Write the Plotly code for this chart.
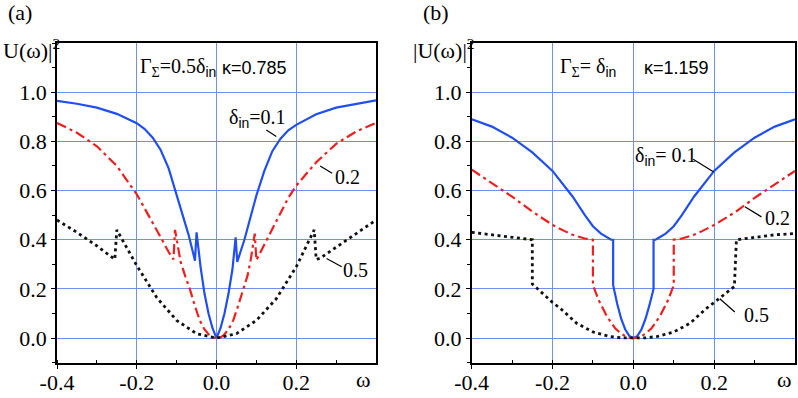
import plotly.graph_objects as go
from plotly.subplots import make_subplots

# ---------------- data ----------------
# panel (a): Gamma = 0.5 delta_in, kappa = 0.785
a01_x = [-0.4, -0.35, -0.3, -0.25, -0.2, -0.18, -0.16, -0.14, -0.12, -0.1, -0.09, -0.08, -0.07, -0.06,
         -0.054, -0.05, -0.04, -0.03, -0.02, -0.01, 0.0, 0.01, 0.02, 0.03, 0.04, 0.048, 0.052, 0.06, 0.07,
         0.08, 0.09, 0.1, 0.12, 0.14, 0.16, 0.18, 0.2, 0.25, 0.3, 0.35, 0.4]
a01_y = [0.965, 0.953, 0.937, 0.912, 0.874, 0.85, 0.815, 0.765, 0.69, 0.585, 0.535, 0.48, 0.42, 0.355,
         0.315, 0.43, 0.29, 0.18, 0.10, 0.04, 0.0, 0.04, 0.10, 0.18, 0.28, 0.41, 0.31, 0.35, 0.40,
         0.46, 0.52, 0.58, 0.68, 0.76, 0.81, 0.845, 0.867, 0.91, 0.937, 0.953, 0.967]

a02_x = [-0.4, -0.35, -0.3, -0.25, -0.2, -0.17, -0.14, -0.12, -0.108, -0.104, -0.09, -0.078, -0.066,
         -0.054, -0.042, -0.03, -0.017, -0.008, 0.0, 0.008, 0.017, 0.03, 0.042, 0.054, 0.066, 0.078,
         0.086, 0.096, 0.1, 0.12, 0.14, 0.16, 0.18, 0.2, 0.25, 0.3, 0.35, 0.4]
a02_y = [0.875, 0.835, 0.78, 0.70, 0.585, 0.50, 0.41, 0.35, 0.32, 0.44, 0.31, 0.25, 0.195,
         0.13, 0.072, 0.035, 0.01, 0.002, 0.0, 0.002, 0.01, 0.035, 0.072, 0.13, 0.195, 0.255,
         0.32, 0.425, 0.317, 0.38, 0.445, 0.51, 0.57, 0.62, 0.715, 0.79, 0.84, 0.875]

a05_x = [-0.4, -0.35, -0.3, -0.255, -0.25, -0.2, -0.15, -0.1, -0.05, 0.0, 0.05, 0.1, 0.15, 0.2,
         0.245, 0.25, 0.26, 0.3, 0.35, 0.4]
a05_y = [0.48, 0.43, 0.375, 0.32, 0.44, 0.295, 0.165, 0.072, 0.018, 0.0, 0.018, 0.072, 0.16, 0.29,
         0.44, 0.32, 0.325, 0.37, 0.425, 0.48]

# panel (b): Gamma = delta_in, kappa = 1.159
b01_x = [-0.4, -0.35, -0.3, -0.25, -0.2, -0.15, -0.12, -0.1, -0.08, -0.065, -0.055, -0.05, -0.05,
         -0.04, -0.03, -0.02, -0.01, 0.0, 0.01, 0.02, 0.03, 0.04, 0.05, 0.05, 0.055, 0.065, 0.08,
         0.1, 0.12, 0.15, 0.2, 0.25, 0.3, 0.35, 0.4]
b01_y = [0.89, 0.86, 0.815, 0.755, 0.68, 0.575, 0.50, 0.455, 0.425, 0.41, 0.40, 0.40, 0.215,
         0.14, 0.078, 0.035, 0.009, 0.0, 0.009, 0.035, 0.078, 0.135, 0.20, 0.40, 0.40, 0.41, 0.425,
         0.455, 0.50, 0.575, 0.68, 0.755, 0.815, 0.86, 0.89]

b02_x = [-0.4, -0.35, -0.3, -0.25, -0.2, -0.17, -0.15, -0.12, -0.1, -0.1, -0.086, -0.066, -0.045,
         -0.03, -0.02, -0.01, 0.0, 0.01, 0.02, 0.03, 0.045, 0.066, 0.086, 0.1, 0.1, 0.12, 0.15,
         0.17, 0.2, 0.25, 0.3, 0.35, 0.4]
b02_y = [0.685, 0.63, 0.575, 0.515, 0.46, 0.435, 0.42, 0.405, 0.40, 0.215, 0.155, 0.09, 0.04,
         0.018, 0.008, 0.002, 0.0, 0.002, 0.008, 0.018, 0.04, 0.09, 0.155, 0.215, 0.40, 0.405, 0.42,
         0.435, 0.46, 0.51, 0.57, 0.625, 0.68]

b05_x = [-0.4, -0.35, -0.3, -0.25, -0.25, -0.2, -0.18, -0.14, -0.1, -0.06, -0.03, 0.0, 0.03, 0.06,
         0.1, 0.14, 0.18, 0.2, 0.25, 0.255, 0.3, 0.35, 0.4]
b05_y = [0.43, 0.42, 0.41, 0.40, 0.22, 0.145, 0.12, 0.06, 0.025, 0.007, 0.001, 0.0, 0.001, 0.007,
         0.025, 0.06, 0.12, 0.145, 0.21, 0.40, 0.41, 0.42, 0.425]

x_ticks = [-0.4, -0.2, 0.0, 0.2]
x_ticktext = ["-0.4", "-0.2", "0.0", "0.2"]
y_ticks = [0.0, 0.2, 0.4, 0.6, 0.8, 1.0]
y_ticktext = ["0.0", "0.2", "0.4", "0.6", "0.8", "1.0"]

# ---------------- styling ----------------
W, H = 798, 398
SERIF = "Liberation Serif, Times New Roman, serif"
SANS = "Liberation Sans, Arial, sans-serif"
BLUE = "#1f4ff2"
RED = "#f21d1d"
BLACK = "#111111"
GRID = "#7090f0"


def px(v):
    return v / W


def py(v):
    return 1 - v / H


fig = make_subplots(rows=1, cols=2)

series = [
    (1, a01_x, a01_y, BLUE, "solid", 2.2),
    (1, a02_x, a02_y, RED, "10px,4px,3px,4px", 2.2),
    (1, a05_x, a05_y, BLACK, "3px,3.5px", 2.8),
    (2, b01_x, b01_y, BLUE, "solid", 2.2),
    (2, b02_x, b02_y, RED, "10px,4px,3px,4px", 2.2),
    (2, b05_x, b05_y, BLACK, "3px,3.5px", 2.8),
]
for col, xs, ys, c, d, w in series:
    fig.add_trace(go.Scatter(x=xs, y=ys, mode="lines", showlegend=False, hoverinfo="skip",
                             line=dict(color=c, dash=d, width=w)), row=1, col=col)

domains = {1: [57 / W, 376 / W], 2: [471.7 / W, 795 / W]}
ydom = [1 - 362.7 / H, 1 - 43 / H]
for col in (1, 2):
    fig.update_xaxes(row=1, col=col, domain=domains[col], range=[-0.4, 0.4], automargin=False,
                     tickmode="array", tickvals=x_ticks, ticktext=x_ticktext,
                     showgrid=True, gridcolor=GRID, gridwidth=1, zeroline=False,
                     showline=True, linecolor="black", linewidth=1.6, mirror=True,
                     ticks="outside", ticklen=4, tickwidth=1.3, tickcolor="black",
                     ticklabelstandoff=-5,
                     minor=dict(tickmode="linear", tick0=0, dtick=0.1, ticks="inside",
                                ticklen=3, tickcolor="black", showgrid=False),
                     tickfont=dict(family=SERIF, size=22, color="black"))
    fig.update_yaxes(row=1, col=col, domain=ydom, range=[-0.1, 1.2], automargin=False,
                     tickmode="array", tickvals=y_ticks, ticktext=y_ticktext,
                     showgrid=True, gridcolor=GRID, gridwidth=1, zeroline=False,
                     showline=True, linecolor="black", linewidth=1.6, mirror=True,
                     ticks="outside", ticklen=4, tickwidth=1.3, tickcolor="black",
                     minor=dict(tickmode="linear", tick0=0, dtick=0.1, ticks="outside",
                                ticklen=3, tickcolor="black", showgrid=False),
                     tickfont=dict(family=SERIF, size=22, color="black"))

ann = []


def txt(text, x, y, xref, yref, size=20, family=SERIF, xanchor="left"):
    ann.append(dict(text=text, x=x, y=y, xref=xref, yref=yref, showarrow=False,
                    xanchor=xanchor, yanchor="middle",
                    font=dict(family=family, size=size, color="black")))


sub_in = "<sub><span style='font-family:Liberation Sans'>in</span></sub>"

# panel a texts
txt("Γ<sub>Σ</sub>=0.5δ" + sub_in, -0.198, 1.099, "x", "y", 20)
txt("κ=0.785", 0.008, 1.099, "x", "y", 18, SANS)
txt("δ" + sub_in + "=0.1", 0.026, 0.895, "x", "y", 20)
txt("0.2", 0.292, 0.656, "x", "y", 20)
txt("0.5", 0.313, 0.276, "x", "y", 20)
# panel b texts
txt("Γ<sub>Σ</sub>= δ" + sub_in, -0.186, 1.099, "x2", "y2", 20)
txt("κ=1.159", 0.021, 1.099, "x2", "y2", 18, SANS)
txt("δ" + sub_in + "= 0.1", 0.0, 0.738, "x2", "y2", 20)
txt("0.2", 0.32, 0.488, "x2", "y2", 20)
txt("0.5", 0.268, 0.092, "x2", "y2", 20)

# panel labels and axis titles
txt("(a)", px(20), py(13), "paper", "paper", 22, SERIF, "center")
txt("(b)", px(436), py(13), "paper", "paper", 22, SERIF, "center")
txt("U(ω)|<sup>2</sup>", px(1), py(49), "paper", "paper", 22, SERIF, "left")
txt("|U(ω)|<sup>2</sup>", px(411), py(49), "paper", "paper", 22, SERIF, "left")
txt("ω", px(363), py(379), "paper", "paper", 22, SERIF, "center")
txt("ω", px(784), py(379), "paper", "paper", 22, SERIF, "center")

shapes = []
leaders = [
    ("x", "y", 0.125, 0.846, 0.15, 0.82),
    ("x", "y", 0.26, 0.70, 0.29, 0.67),
    ("x", "y", 0.276, 0.324, 0.314, 0.29),
    ("x2", "y2", 0.148, 0.727, 0.198, 0.676),
    ("x2", "y2", 0.276, 0.534, 0.317, 0.493),
    ("x2", "y2", 0.214, 0.16, 0.251, 0.106),
]
for xr, yr, x0, y0, x1, y1 in leaders:
    shapes.append(dict(type="line", xref=xr, yref=yr, x0=x0, y0=y0, x1=x1, y1=y1,
                       line=dict(color="black", width=1.2)))

fig.update_layout(template="none", width=W, height=H, margin=dict(l=0, r=0, t=0, b=0, pad=0),
                  paper_bgcolor="white", plot_bgcolor="white",
                  annotations=ann, shapes=shapes, showlegend=False)

fig.write_html("out.html", config={"responsive": False, "displayModeBar": False},
               post_script="document.body.style.margin='0';document.body.style.overflow='hidden';")
